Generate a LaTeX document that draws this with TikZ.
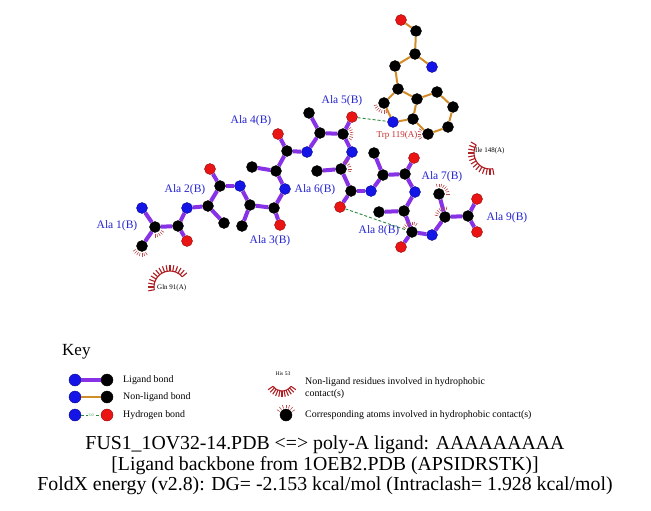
\documentclass[tikz,border=0pt]{standalone}
\usepackage{fontspec}
\setmainfont{Liberation Serif}
\definecolor{atomblue}{RGB}{20,20,230}
\definecolor{atomred}{RGB}{235,20,20}
\definecolor{ligpurple}{RGB}{135,50,230}
\definecolor{nlorange}{RGB}{210,140,40}
\definecolor{hbgreen}{RGB}{40,140,60}
\definecolor{labblue}{RGB}{35,35,210}
\definecolor{hred}{RGB}{175,30,35}
\definecolor{trpred}{RGB}{200,45,45}
\newcommand{\hmarks}[4]{\foreach \a in {#2,#3,...,#4}{\draw[hmark] (#1.center) ++(\a:7) -- ++(\a:3.5);}}
\newcommand{\resarc}[6]{%
  \draw[hred,line width=1.1pt] (#1) ++(#3:#2) arc[start angle=#3,end angle=#5,radius=#2];
  \foreach \a in {#3,#4,...,#5}{\draw[hred,line width=1.1pt] (#1) ++(\a:#2) -- ++(\a:#6);}}
\begin{document}
\begin{tikzpicture}[x=1pt,y=-1pt,
  atomC/.style={circle,fill=black,draw=black,line width=0.4pt,inner sep=0pt,minimum size=11pt},
  atomN/.style={atomC,fill=atomblue,draw=atomblue!60!black},
  atomO/.style={atomC,fill=atomred,draw=atomred!60!black},
  lig/.style={draw=ligpurple,line width=4pt},
  nonlig/.style={draw=nlorange,line width=2pt},
  hb/.style={draw=hbgreen,line width=0.9pt,dash pattern=on 3pt off 2pt},
  hmark/.style={draw=hred!80!white,line width=0.6pt},
  alalab/.style={text=labblue,font=\fontsize{11.5}{13}\selectfont,inner sep=0pt},
  reslab/.style={text=black,font=\fontsize{7}{8}\selectfont,inner sep=0pt,anchor=west},
  keytext/.style={font=\fontsize{9.9}{11.5}\selectfont,inner sep=0pt,anchor=west,align=left},
  titletext/.style={font=\fontsize{19.8}{21}\selectfont,inner sep=0pt}]
\useasboundingbox (0,0) rectangle (651,511);
\fill[white] (0,0) rectangle (651,511);

% ---------- Trp 119(A)
\node[atomO] (tO) at (401,20) {};
\node[atomC] (tC) at (416,31) {};
\node[atomC] (tCA) at (415,54) {};
\node[atomN] (tN) at (432,67) {};
\node[atomC] (tCB) at (395,66) {};
\node[atomC] (tCG) at (398,89) {};
\node[atomC] (tCD1) at (384,103) {};
\node[atomN] (tNE1) at (393,122) {};
\node[atomC] (tCE2) at (413,119) {};
\node[atomC] (tCD2) at (417,99) {};
\node[atomC] (tCE3) at (437,92) {};
\node[atomC] (tCZ3) at (453,107) {};
\node[atomC] (tCH2) at (448,127) {};
\node[atomC] (tCZ2) at (428,134) {};
\foreach \p/\q in {tO/tC,tC/tCA,tCA/tN,tCA/tCB,tCB/tCG,tCG/tCD1,tCD1/tNE1,tNE1/tCE2,tCE2/tCD2,tCD2/tCG,tCD2/tCE3,tCE3/tCZ3,tCZ3/tCH2,tCH2/tCZ2,tCZ2/tCE2}
  \draw[nonlig] (\p) -- (\q);
\node[text=trpred,font=\fontsize{9}{10}\selectfont,inner sep=0pt] (trplab) at (397,135) {Trp 119(A)};

% ---------- ligand atoms
\node[atomN] (n1) at (142,208) {};
\node[atomC] (ca1) at (155,227) {};
\node[atomC] (cb1) at (142,246) {};
\node[atomC] (c1) at (178,226) {};
\node[atomO] (o1) at (187,241) {};
\node[atomN] (n2) at (187,208) {};
\node[atomC] (ca2) at (208,206) {};
\node[atomC] (cb2) at (224,223) {};
\node[atomC] (c2) at (220,186) {};
\node[atomO] (o2) at (210,169) {};
\node[atomN] (n3) at (240,186) {};
\node[atomC] (ca3) at (250,205) {};
\node[atomC] (cb3) at (242,226) {};
\node[atomC] (c3) at (274,208) {};
\node[atomO] (o3) at (280,225) {};
\node[atomN] (n4) at (285,189) {};
\node[atomC] (ca4) at (276,171) {};
\node[atomC] (cb4) at (252,167) {};
\node[atomC] (c4) at (287,151) {};
\node[atomO] (o4) at (278,134) {};
\node[atomN] (n5) at (307,152) {};
\node[atomC] (ca5) at (320,133) {};
\node[atomC] (cb5) at (309,113) {};
\node[atomC] (c5) at (343,134) {};
\node[atomO] (o5) at (352,117) {};
\node[atomN] (n6) at (352,152) {};
\node[atomC] (ca6) at (341,169) {};
\node[atomC] (cb6) at (317,171) {};
\node[atomC] (c6) at (351,191) {};
\node[atomO] (o6) at (340,207) {};
\node[atomN] (n7) at (371,191) {};
\node[atomC] (ca7) at (383,175) {};
\node[atomC] (cb7) at (374,153) {};
\node[atomC] (c7) at (405,174) {};
\node[atomO] (o7) at (414,158) {};
\node[atomN] (n8) at (415,192) {};
\node[atomC] (ca8) at (404,211) {};
\node[atomC] (cb8) at (379,212) {};
\node[atomC] (c8) at (412,232) {};
\node[atomO] (o8) at (401,247) {};
\node[atomN] (n9) at (432,235) {};
\node[atomC] (ca9) at (445,217) {};
\node[atomC] (cb9) at (439,194) {};
\node[atomC] (c9) at (468,216) {};
\node[atomO] (o9) at (477,199) {};
\node[atomO] (oxt) at (477,232) {};
\foreach \p/\q in {n1/ca1,ca1/cb1,ca1/c1,c1/o1,c1/n2,
  n2/ca2,ca2/cb2,ca2/c2,c2/o2,c2/n3,
  n3/ca3,ca3/cb3,ca3/c3,c3/o3,c3/n4,
  n4/ca4,ca4/cb4,ca4/c4,c4/o4,c4/n5,
  n5/ca5,ca5/cb5,ca5/c5,c5/o5,c5/n6,
  n6/ca6,ca6/cb6,ca6/c6,c6/o6,c6/n7,
  n7/ca7,ca7/cb7,ca7/c7,c7/o7,c7/n8,
  n8/ca8,ca8/cb8,ca8/c8,c8/o8,c8/n9,
  n9/ca9,ca9/cb9,ca9/c9,c9/o9,c9/oxt}
  \draw[lig] (\p) -- (\q);

% ---------- hydrogen bonds
\draw[hb] (o5) -- (tNE1);
\draw[hb] (o6) -- (c8);

% ---------- hydrophobic contact marks on atoms
\hmarks{ca1}{30}{45}{90}
\hmarks{cb1}{60}{75}{150}
\hmarks{c5}{-40}{-25}{40}
\hmarks{ca6}{-60}{-45}{15}
\hmarks{c8}{-150}{-135}{-60}
\hmarks{ca9}{-170}{-155}{-80}
\hmarks{cb9}{-105}{-90}{0}
\hmarks{tCD1}{75}{90}{165}
\hmarks{tCZ2}{150}{165}{210}

% ---------- residue contact arcs
\coordinate (glnc) at (170,287);
\resarc{glnc}{16}{-190}{-180}{-40}{6}
\node[reslab] (glnlab) at (157,288) {Gln 91(A)};
\coordinate (ilec) at (490,153);
\resarc{ilec}{16}{-280}{-270}{-150}{6}
\node[reslab] (ilelab) at (475,151) {Ile 148(A)};

% ---------- residue labels
\node[alalab] (l1) at (117,226) {Ala 1(B)};
\node[alalab] (l2) at (185,190) {Ala 2(B)};
\node[alalab] (l3) at (270,241) {Ala 3(B)};
\node[alalab] (l4) at (251,121) {Ala 4(B)};
\node[alalab] (l5) at (342,101) {Ala 5(B)};
\node[alalab] (l6) at (315,190) {Ala 6(B)};
\node[alalab] (l7) at (442,177) {Ala 7(B)};
\node[alalab] (l8) at (379,231) {Ala 8(B)};
\node[alalab] (l9) at (507,218) {Ala 9(B)};

% ---------- key
\node[font=\fontsize{17}{19}\selectfont,inner sep=0pt,anchor=west] (keyt) at (62,352) {Key};
\node[atomN,minimum size=12pt] (k1a) at (75,380) {};
\node[atomC,minimum size=12pt] (k1b) at (107,380) {};
\draw[lig] (k1a) -- (k1b);
\node[keytext] (k1t) at (123,380) {Ligand bond};
\node[atomN,minimum size=12pt] (k2a) at (75,397) {};
\node[atomC,minimum size=12pt] (k2b) at (107,397) {};
\draw[nonlig] (k2a) -- (k2b);
\node[keytext] (k2t) at (123,397) {Non-ligand bond};
\node[atomN,minimum size=12pt] (k3a) at (75,415) {};
\node[atomO,minimum size=12pt] (k3b) at (107,415) {};
\draw[hb] (k3a) -- node[fill=white,inner sep=0.5pt,text=hbgreen,font=\fontsize{4}{4}\selectfont] {3.0} (k3b);
\node[keytext] (k3t) at (123,415) {Hydrogen bond};

\coordinate (hisc) at (282,380);
\resarc{hisc}{11}{35}{46}{145}{6}
\node[font=\fontsize{5.5}{6}\selectfont,inner sep=0pt] (hislab) at (283,374) {His 53};
\node[keytext] (k4t) at (305,388) {Non-ligand residues involved in hydrophobic\\contact(s)};
\node[atomC,minimum size=12pt] (k5a) at (286,415) {};
\hmarks{k5a}{-150}{-130}{-30}
\node[keytext] (k5t) at (305,415) {Corresponding atoms involved in hydrophobic contact(s)};

% ---------- title
\node[titletext] (t1) at (325,445) {FUS1\_1OV32-14.PDB <=> poly-A ligand: AAAAAAAAA};
\node[titletext] (t2) at (325,466) {[Ligand backbone from 1OEB2.PDB (APSIDRSTK)]};
\node[titletext] (t3) at (325,486) {FoldX energy (v2.8): DG= -2.153 kcal/mol (Intraclash= 1.928 kcal/mol)};
\end{tikzpicture}
\end{document}
